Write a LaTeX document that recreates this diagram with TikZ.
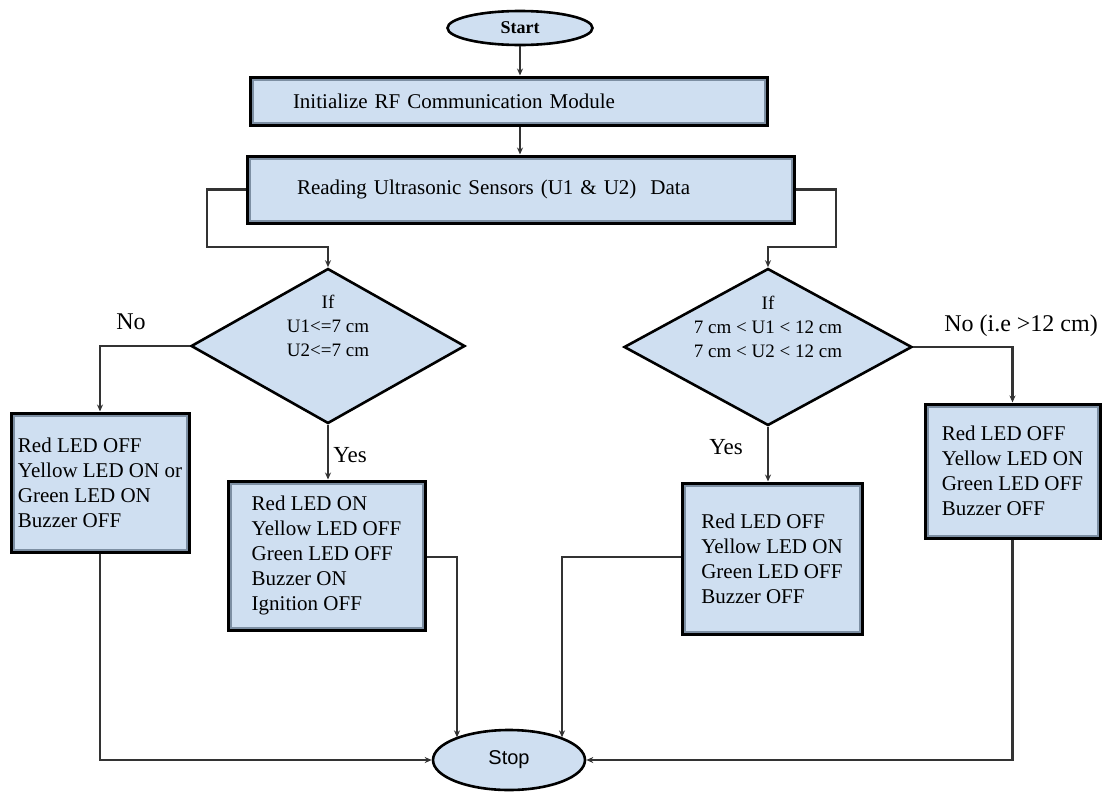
\documentclass[tikz,border=0pt]{standalone}
\usepackage{fontspec}
\setmainfont{Liberation Serif}
\newfontfamily\stopfont{Liberation Sans}
\usetikzlibrary{shapes.geometric,arrows.meta}
\definecolor{boxfill}{RGB}{207,223,241}
\definecolor{innerline}{RGB}{125,143,163}
\definecolor{wirec}{RGB}{51,51,51}
\begin{document}
\begin{tikzpicture}[x=1pt,y=-1pt,
  proc/.style={rectangle, draw=black, line width=3pt, fill=boxfill,
    path picture={\draw[innerline,line width=7pt] (path picture bounding box.south west) rectangle (path picture bounding box.north east);},
    align=left, font=\fontsize{21}{25}\selectfont, inner ysep=0pt},
  dec/.style={diamond, draw=black, line width=2.6pt, fill=boxfill, inner sep=0pt},
  dtext/.style={align=center, inner sep=0pt, font=\fontsize{19}{24}\selectfont},
  term/.style={ellipse, draw=black, line width=2.6pt, fill=boxfill, inner sep=0pt},
  lbl/.style={font=\fontsize{24}{28}\selectfont, inner sep=0pt},
  wire/.style={draw=wirec, line width=2.6pt},
  arr/.style={wire, -{Stealth[length=7pt,width=6pt]}}]
\useasboundingbox (0,0) rectangle (1109,793);

\node[term, minimum width=145pt, minimum height=34pt, font=\bfseries\fontsize{18}{20}\selectfont] (start) at (520,28) {Start};
\node[proc, minimum height=48pt, text width=431pt, inner xsep=43pt] (init) at (508.5,101) {Initialize RF Communication Module};
\node[proc, minimum height=67pt, text width=447pt, inner xsep=50pt] (read) at (520.5,189.5) {Reading Ultrasonic Sensors (U1 \& U2)\ \ Data};

\node[dec, minimum width=274pt, minimum height=155pt] (d1) at (328,346) {};
\node[dtext] (t1) at ([yshift=20pt]d1.center) {If\\U1<=7 cm\\U2<=7 cm};
\node[dec, minimum width=288pt, minimum height=157pt] (d2) at (768,347) {};
\node[dtext] (t2) at ([yshift=20pt]d2.center) {If\\7 cm < U1 < 12 cm\\7 cm < U2 < 12 cm};

\node[proc, minimum width=178pt, minimum height=139pt, inner xsep=4pt] (b1) at (100,482.5) {Red LED OFF\\Yellow LED ON or\\Green LED ON\\Buzzer OFF};
\node[proc, minimum width=197pt, minimum height=149pt] (b2) at (326.5,555.5) {Red LED ON\\Yellow LED OFF\\Green LED OFF\\Buzzer ON\\Ignition OFF};
\node[proc, minimum width=180pt, minimum height=151pt] (b3) at (772,558.5) {Red LED OFF\\Yellow LED ON\\Green LED OFF\\Buzzer OFF};
\node[proc, minimum width=175pt, minimum height=134pt] (b4) at (1012.5,471) {Red LED OFF\\Yellow LED ON\\Green LED OFF\\Buzzer OFF};

\node[term, minimum width=152pt, minimum height=60pt, font=\stopfont\fontsize{20}{22}\selectfont] (stop) at (509,760) {Stop};

\node[lbl] (no1) at (131,322) {No};
\node[lbl] (no2) at (1021,326) {No (i.e >12 cm)};
\node[lbl, font=\fontsize{23}{27}\selectfont] (yes1) at (350,455) {Yes};
\node[lbl, font=\fontsize{23}{27}\selectfont] (yes2) at (726,447) {Yes};

\draw[arr] (start.south) -- (start.south |- init.north);
\draw[arr] (init.south -| start.south) -- (read.north -| start.south);
\coordinate (lk) at (207,247);
\coordinate (rk) at (836,247);
\draw[arr] (read.west) -| (lk) -| (d1.north);
\draw[arr] (read.east) -| (rk) -| (d2.north);
\draw[arr] (d1.west) -| (b1.north);
\draw[arr] (d1.south) -- (d1.south |- b2.north);
\draw[arr] (d2.south) -- (d2.south |- b3.north);
\draw[arr] (d2.east) -| (b4.north);
\draw[arr] (b1.south) |- (stop.west);
\draw[arr] (b4.south) |- (stop.east);
\coordinate (lj) at (457,557);
\coordinate (rj) at (562,557);
\draw[arr] (b2.east |- lj) -- (lj) -- (lj |- stop.157);
\draw[arr] (b3.west |- rj) -- (rj) -- (rj |- stop.23);
\end{tikzpicture}
\end{document}
